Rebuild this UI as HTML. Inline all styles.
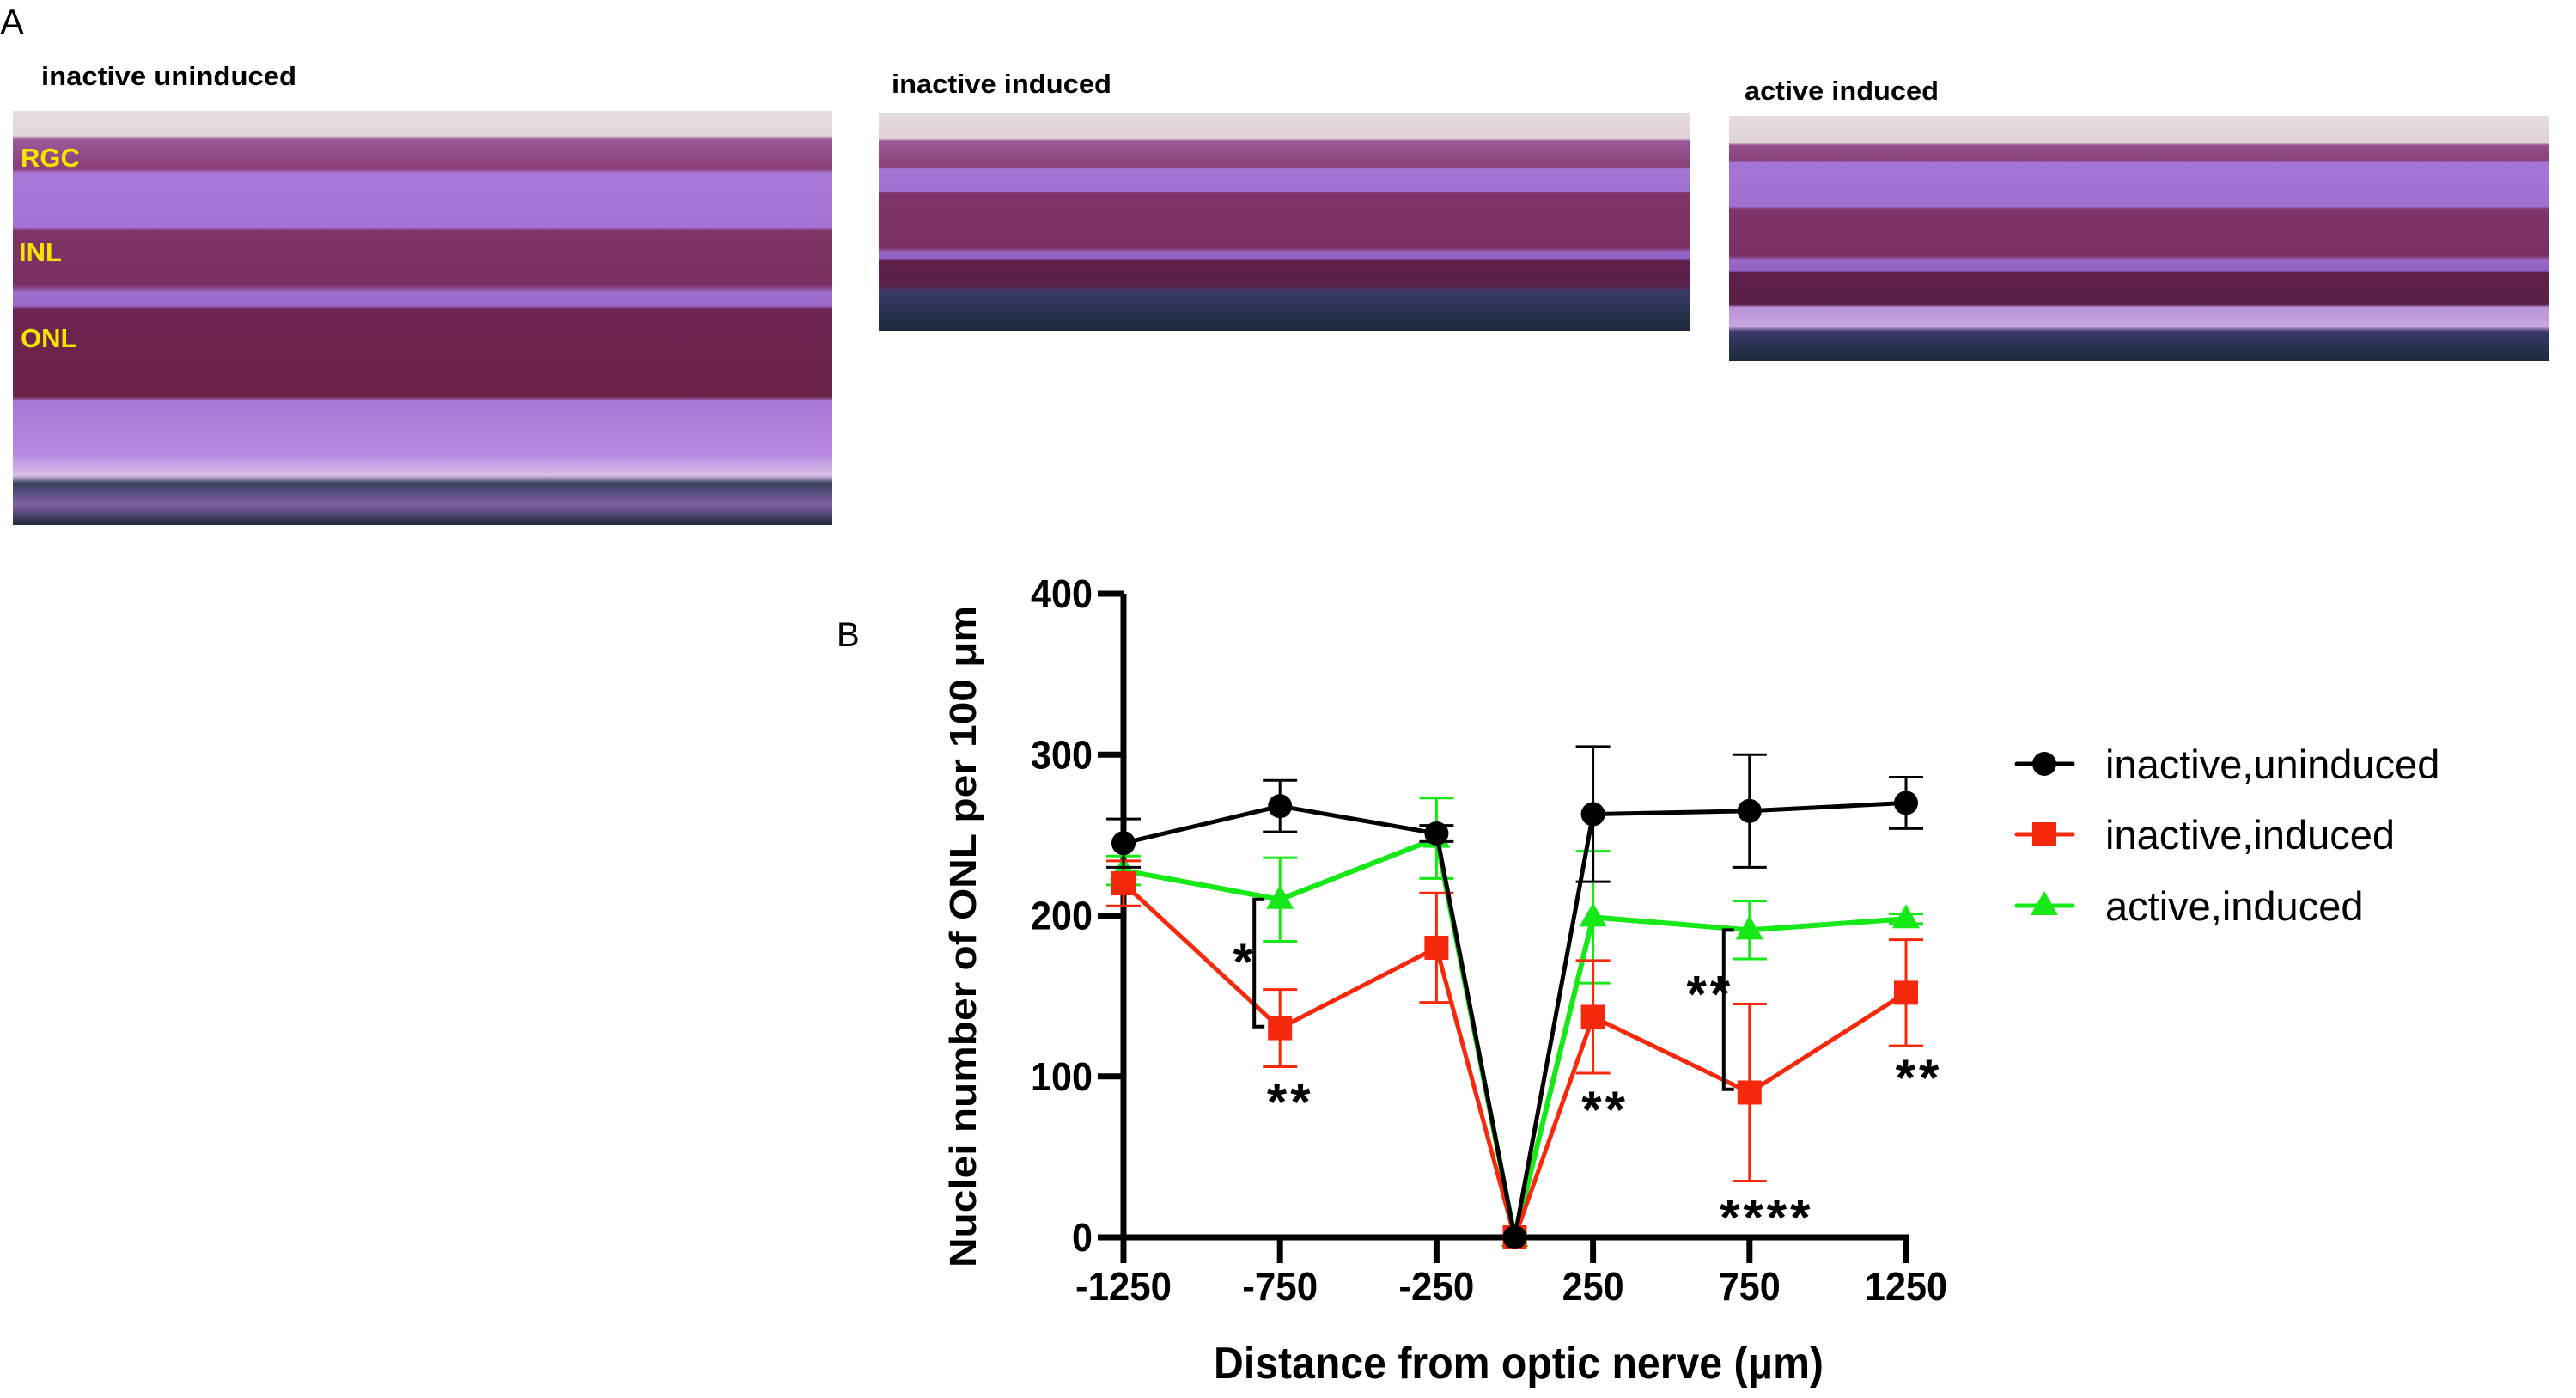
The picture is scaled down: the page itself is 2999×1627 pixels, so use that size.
<!DOCTYPE html>
<html><head><meta charset="utf-8"><style>
html,body{margin:0;padding:0;background:#fff;}
svg{display:block;font-family:"Liberation Sans",Arial,sans-serif;}
</style></head><body>
<svg id="fig" width="2999" height="1627" viewBox="0 0 2999 1627" xmlns="http://www.w3.org/2000/svg">
<defs>
<linearGradient id="g1" x1="0" y1="0" x2="0" y2="1" gradientUnits="objectBoundingBox">
<stop offset="0" stop-color="#e8dfe0"/><stop offset="0.06" stop-color="#e2d6da"/>
<stop offset="0.07" stop-color="#9a5a9a"/><stop offset="0.14" stop-color="#8a3e74"/>
<stop offset="0.15" stop-color="#a878d8"/><stop offset="0.28" stop-color="#a472d6"/>
<stop offset="0.29" stop-color="#7e3466"/><stop offset="0.42" stop-color="#7a2e62"/>
<stop offset="0.44" stop-color="#a070d0"/><stop offset="0.47" stop-color="#9a68c8"/>
<stop offset="0.48" stop-color="#6e2450"/><stop offset="0.69" stop-color="#6a2248"/>
<stop offset="0.70" stop-color="#a876d4"/><stop offset="0.83" stop-color="#b88ae0"/>
<stop offset="0.88" stop-color="#d8bfe6"/><stop offset="0.90" stop-color="#38405e"/>
<stop offset="0.95" stop-color="#8060a8"/><stop offset="1" stop-color="#1c2838"/>
</linearGradient>
<linearGradient id="g2" x1="0" y1="0" x2="0" y2="1">
<stop offset="0" stop-color="#e6dcde"/><stop offset="0.12" stop-color="#e0d2d8"/>
<stop offset="0.13" stop-color="#9a5a9a"/><stop offset="0.25" stop-color="#8a4276"/>
<stop offset="0.26" stop-color="#a676d6"/><stop offset="0.36" stop-color="#a070d0"/>
<stop offset="0.37" stop-color="#7e3468"/><stop offset="0.62" stop-color="#7a3064"/>
<stop offset="0.64" stop-color="#9a68c8"/><stop offset="0.67" stop-color="#9060c0"/>
<stop offset="0.68" stop-color="#5e2048"/><stop offset="0.79" stop-color="#5a2048"/>
<stop offset="0.82" stop-color="#3a3a6a"/><stop offset="1" stop-color="#1c2a3a"/>
</linearGradient>
<linearGradient id="g3" x1="0" y1="0" x2="0" y2="1">
<stop offset="0" stop-color="#e6dcde"/><stop offset="0.11" stop-color="#e0d2d8"/>
<stop offset="0.12" stop-color="#94508e"/><stop offset="0.18" stop-color="#8a4276"/>
<stop offset="0.19" stop-color="#a676d6"/><stop offset="0.37" stop-color="#a070d0"/>
<stop offset="0.38" stop-color="#7e3468"/><stop offset="0.57" stop-color="#7a3064"/>
<stop offset="0.59" stop-color="#9a68c8"/><stop offset="0.63" stop-color="#9060c0"/>
<stop offset="0.64" stop-color="#5e2048"/><stop offset="0.77" stop-color="#5a2048"/>
<stop offset="0.78" stop-color="#b890d8"/><stop offset="0.86" stop-color="#c8a8e0"/>
<stop offset="0.88" stop-color="#3a3a6a"/><stop offset="1" stop-color="#1c2a3a"/>
</linearGradient>
</defs>

<text x="0" y="40" font-size="42">A</text>
<text x="48" y="99" font-size="31" font-weight="bold" textLength="297" lengthAdjust="spacingAndGlyphs">inactive uninduced</text>
<text x="1038" y="108" font-size="31" font-weight="bold" textLength="256" lengthAdjust="spacingAndGlyphs">inactive induced</text>
<text x="2031" y="116" font-size="31" font-weight="bold" textLength="226" lengthAdjust="spacingAndGlyphs">active induced</text>

<rect x="15" y="129" width="954" height="482" fill="url(#g1)"/>
<rect x="1023" y="131" width="944" height="254" fill="url(#g2)"/>
<rect x="2013" y="135" width="955" height="285" fill="url(#g3)"/>
<text x="24" y="194" font-size="31" font-weight="bold" fill="#f4e400">RGC</text>
<text x="22" y="304" font-size="31" font-weight="bold" fill="#f4e400">INL</text>
<text x="24" y="404" font-size="31" font-weight="bold" fill="#f4e400">ONL</text>

<text x="974" y="752" font-size="40">B</text>
<g id="chart"></g>
</svg>
<script>
const xCats = [-1250, -750, -250, 0, 250, 750, 1250];
const xTicks = [-1250, -750, -250, 250, 750, 1250];
const yTicks = [0, 100, 200, 300, 400];
const blackVals = [245, 268, 251, 0, 263, 265, 270];
const blackErr = [15, 16, 5, 0, 42, 35, 16];
const redVals = [220, 130, 180, 0, 137, 90, 152];
const redErr = [14, 24, 34, 0, 35, 55, 33];
const greenVals = [228, 210, 248, 0, 199, 191, 198];
const greenErr = [9, 26, 25, 0, 41, 18, 3];
const seriesNames = ["inactive,uninduced", "inactive,induced", "active,induced"];
const sigAnnotations = [
  {x:-750, v:172, t:"*", dx:-41},
  {x:-750, v:85, t:"**", dx:12},
  {x:250, v:80, t:"**", dx:14},
  {x:750, v:152, t:"**", dx:-46},
  {x:750, v:13, t:"****", dx:20},
  {x:1250, v:100, t:"**", dx:15}
];
const brackets = [{x:-750, v1:210, v2:131}, {x:750, v1:191, v2:92}];

const NS = "http://www.w3.org/2000/svg";
const g = document.getElementById('chart');
const X0 = 1308, X1 = 2219, Y0 = 1440, Y400 = 691;
function xs(v){ return X0 + (v + 1250) / 2500 * (X1 - X0); }
function ys(v){ return Y0 - v / 400 * (Y0 - Y400); }
function mk(tag, attrs, parent){
  const e = document.createElementNS(NS, tag);
  for (const k in attrs) e.setAttribute(k, attrs[k]);
  (parent || g).appendChild(e);
  return e;
}

let e = mk('line', {x1:X0, y1:Y400, x2:X0, y2:Y0+3, stroke:'#000', 'stroke-width':7});


e = mk('line', {x1:X0-3, y1:Y0, x2:X1+3, y2:Y0, stroke:'#000', 'stroke-width':7});


yTicks.forEach(t => {
  const y = ys(t);
  let l = mk('line', {x1:X0-30, y1:y, x2:X0, y2:y, stroke:'#000', 'stroke-width':7});
  
  
  let tx = mk('text', {x:X0-36, y:y+16, 'font-size':46, 'font-weight':'bold', 'text-anchor':'end', textLength:(String(t).length*24), lengthAdjust:'spacingAndGlyphs'});
  tx.textContent = t;
  
  
});
xTicks.forEach(t => {
  const x = xs(t);
  let l = mk('line', {x1:x, y1:Y0, x2:x, y2:Y0+30, stroke:'#000', 'stroke-width':7});
  
  
  const s = String(t);
  let tx = mk('text', {x:x, y:Y0+73, 'font-size':46, 'font-weight':'bold', 'text-anchor':'middle', textLength:(s.length*24 - (s[0]=='-'?8:0)), lengthAdjust:'spacingAndGlyphs'});
  tx.textContent = s;
  
  
});
let yt = mk('text', {x:0, y:0, 'font-size':44, 'font-weight':'bold', 'text-anchor':'middle', transform:'translate(1136,1090) rotate(-90)', textLength:770, lengthAdjust:'spacingAndGlyphs'});
yt.textContent = 'Nuclei number of ONL per 100 μm';


let xt = mk('text', {x:1768, y:1604, 'font-size':52, 'font-weight':'bold', 'text-anchor':'middle', textLength:710, lengthAdjust:'spacingAndGlyphs'});
xt.textContent = 'Distance from optic nerve (μm)';



function marker(shape, x, y, color, parent){
  let m;
  if (shape === 'circle') m = mk('circle', {cx:x, cy:y, r:14, fill:color}, parent);
  else if (shape === 'square') m = mk('rect', {x:x-14, y:y-14, width:28, height:28, fill:color}, parent);
  else m = mk('polygon', {points:`${x},${y-17} ${x+16},${y+11} ${x-16},${y+11}`, fill:color}, parent);
  return m;
}
function drawSeries(vals, errs, color, shape, lw, name){
  const sg = mk('g', {});
  
  
  vals.forEach((v, i) => {
    if (!errs[i]) return;
    const x = xs(xCats[i]);
    const eb = mk('path', {d:`M${x},${ys(v+errs[i])}V${ys(v-errs[i])}M${x-20},${ys(v+errs[i])}H${x+20}M${x-20},${ys(v-errs[i])}H${x+20}`, stroke:color, 'stroke-width':3, fill:'none'}, sg);
    
    
  });
  const pl = mk('polyline', {points:vals.map((v,i)=>xs(xCats[i])+','+ys(v)).join(' '), stroke:color, 'stroke-width':lw, fill:'none'}, sg);
  
  
  vals.forEach((v, i) => {
    const m = marker(shape, xs(xCats[i]), ys(v), color, sg);
    
    
  });
}
drawSeries(greenVals, greenErr, '#17e817', 'triangle', 6, 'active-induced');
drawSeries(redVals, redErr, '#f7290d', 'square', 5, 'inactive-induced');
drawSeries(blackVals, blackErr, '#000', 'circle', 5, 'inactive-uninduced');

brackets.forEach(b => {
  const x = xs(b.x) - 30;
  const br = mk('path', {d:`M${x+12},${ys(b.v1)}H${x}V${ys(b.v2)}H${x+12}`, stroke:'#000', 'stroke-width':4, fill:'none'});
  
  
});
sigAnnotations.forEach(a => {
  const t = mk('text', {x:xs(a.x)+a.dx, y:ys(a.v)+22, 'font-size':60, 'font-weight':'bold', 'text-anchor':'middle', 'letter-spacing':4});
  t.textContent = a.t;
  
  
});

const legColors = ['#000', '#f7290d', '#17e817'];
const legShapes = ['circle', 'square', 'triangle'];
const legY = [889, 971, 1054];
seriesNames.forEach((n, i) => {
  const lg = mk('g', {});
  
  
  mk('line', {x1:2348, y1:legY[i], x2:2413, y2:legY[i], stroke:legColors[i], 'stroke-width':5, 'stroke-linecap':'round'}, lg);
  marker(legShapes[i], 2380, legY[i], legColors[i], lg);
  const t = mk('text', {x:2451, y:legY[i]+17, 'font-size':47}, lg);
  t.textContent = n;
});
</script>
</body></html>
